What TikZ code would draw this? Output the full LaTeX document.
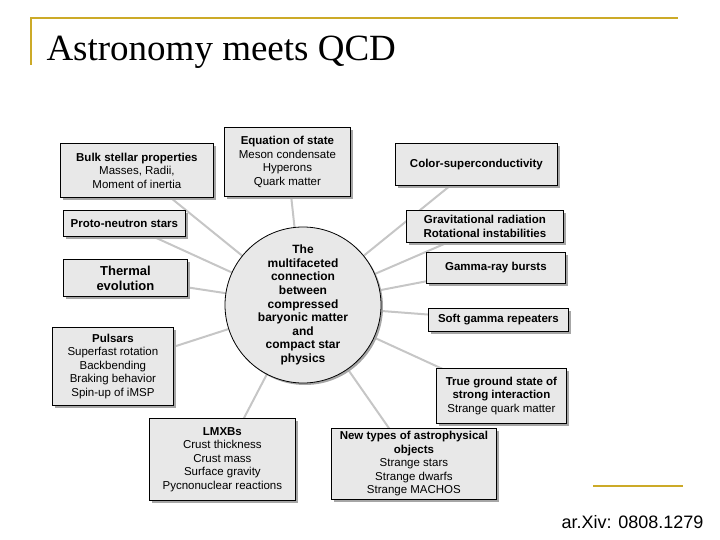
\documentclass[tikz,border=0pt]{standalone}
\usepackage{fontspec}
\setmainfont{Liberation Serif}
\newfontfamily\boxfont{Liberation Sans}
\usetikzlibrary{backgrounds,shadows}
\definecolor{gold}{RGB}{204,170,40}
\definecolor{boxfill}{RGB}{232,232,232}
\tikzset{
  bx/.style={draw=black, line width=0.8pt, fill=boxfill, align=center, inner sep=0pt, anchor=north west,
    font=\boxfont\fontsize{11.5}{13.5}\selectfont, drop shadow={shadow xshift=3pt, shadow yshift=-3pt, fill=gray!70, opacity=1}},
  conn/.style={draw=gray!45, line width=2pt}
}
\newcommand{\bxn}[7][]{\node[bx, minimum width=#5pt-#3pt, minimum height=#6pt-#4pt, #1] (#2) at (#3,#4) {#7};}
\begin{document}
\begin{tikzpicture}[x=1pt,y=-1pt]
\useasboundingbox (0,0) rectangle (720,540);
\draw[gold, line width=2.5pt] (31,65) -- (31,18) -- (678,18);
\draw[gold, line width=2.5pt] (593,486) -- (683,486);
\node[anchor=west, font=\fontsize{37}{40}\selectfont] (title) at (43,52) {Astronomy meets QCD};
\node[anchor=east, font=\boxfont\fontsize{18}{20}\selectfont] (ref) at (707,522) {ar.Xiv: 0808.1279};

\node[circle, draw=black, line width=0.8pt, fill=boxfill, minimum size=156pt, inner sep=0pt, align=center,
  font=\boxfont\bfseries\fontsize{12}{13.6}\selectfont, drop shadow={shadow xshift=2pt, shadow yshift=-2pt, fill=gray!70, opacity=1}] (c) at (303,305)
  {The\\multifaceted\\connection\\between\\compressed\\baryonic matter\\and\\compact star\\physics};

\bxn{bulk}{60}{143}{213}{197}{\textbf{Bulk stellar properties}\\Masses, Radii,\\Moment of inertia}
\bxn{eos}{224}{127}{350}{196}{\textbf{Equation of state}\\Meson condensate\\Hyperons\\Quark matter}
\bxn{color}{395}{143}{557}{185}{\textbf{Color-superconductivity}}
\bxn{proto}{63}{210}{185}{236}{\textbf{Proto-neutron stars}}
\bxn{grav}{406}{210}{563}{242}{\textbf{Gravitational radiation}\\\textbf{Rotational instabilities}}
\bxn{gamma}{426}{252}{565}{283}{\textbf{Gamma-ray bursts}}
\bxn[font=\boxfont\bfseries\fontsize{13}{15}\selectfont]{therm}{63}{259}{187}{296}{Thermal\\evolution}
\bxn{soft}{428}{308}{568}{331}{\textbf{Soft gamma repeaters}}
\bxn{puls}{52}{327}{173}{405}{\textbf{Pulsars}\\Superfast rotation\\Backbending\\Braking behavior\\Spin-up of iMSP}
\bxn{ground}{436}{368}{566}{423}{\textbf{True ground state of}\\\textbf{strong interaction}\\Strange quark matter}
\bxn{lmxb}{149}{418}{295}{500}{\textbf{LMXBs}\\Crust thickness\\Crust mass\\Surface gravity\\Pycnonuclear reactions}
\bxn{newt}{331}{428}{496}{499}{\textbf{New types of astrophysical}\\\textbf{objects}\\Strange stars\\Strange dwarfs\\Strange MACHOS}

\begin{scope}[on background layer]
\foreach \n in {bulk,eos,color,proto,grav,gamma,therm,soft,puls,ground,lmxb,newt}
  \draw[conn] (\n.center) -- (c.center);
\end{scope}
\end{tikzpicture}
\end{document}
